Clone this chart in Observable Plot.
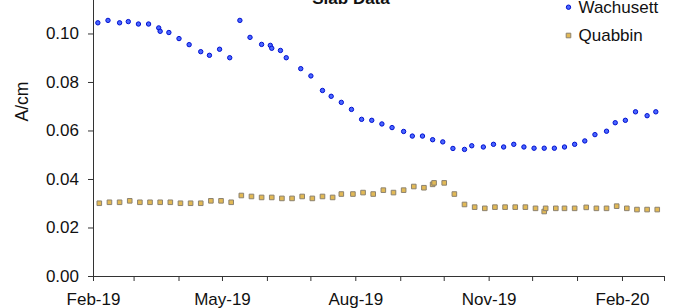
<!DOCTYPE html>
<html>
<head>
<meta charset="utf-8">
<script src="https://cdn.jsdelivr.net/npm/d3@7"></script>
<script src="https://cdn.jsdelivr.net/npm/@observablehq/plot@0.6"></script>
<style>
  html, body { margin: 0; padding: 0; background: white; }
  #chart { width: 675px; height: 308px; overflow: hidden; }
</style>
</head>
<body>
<div id="chart"></div>
<script>
const chartTitle = "Slab Data";
const yLabel = "A/cm";
const seriesNames = ["Wachusett", "Quabbin"];

const wachusettDates = [
  "2019-02-04","2019-02-11","2019-02-19","2019-02-25","2019-03-04","2019-03-11","2019-03-18","2019-03-19",
  "2019-03-25","2019-04-01","2019-04-08","2019-04-16","2019-04-22","2019-04-29","2019-05-06","2019-05-13",
  "2019-05-20","2019-05-28","2019-06-03","2019-06-04","2019-06-10","2019-06-14","2019-06-24","2019-07-01",
  "2019-07-09","2019-07-15","2019-07-22","2019-07-29","2019-08-05","2019-08-12","2019-08-19","2019-08-26",
  "2019-09-03","2019-09-09","2019-09-16","2019-09-23","2019-09-30","2019-10-07","2019-10-15","2019-10-20",
  "2019-10-28","2019-11-04","2019-11-11","2019-11-18","2019-11-25","2019-12-02","2019-12-09","2019-12-16",
  "2019-12-23","2019-12-30","2020-01-06","2020-01-13","2020-01-21","2020-01-27","2020-02-03","2020-02-10",
  "2020-02-18","2020-02-24"
];
const wachusettValues = [
  0.1046,0.1056,0.1046,0.1051,0.1041,0.1041,0.1025,0.1011,
  0.1006,0.0981,0.0956,0.0927,0.0912,0.0937,0.0902,0.1056,
  0.0986,0.0957,0.0953,0.0941,0.0932,0.0902,0.0857,0.0827,
  0.0767,0.0743,0.0718,0.0689,0.0648,0.0644,0.0629,0.0614,
  0.0598,0.0579,0.0579,0.0564,0.0555,0.0528,0.0524,0.0539,
  0.0534,0.0545,0.0534,0.0545,0.0534,0.0529,0.0529,0.0529,
  0.0534,0.0545,0.0559,0.0585,0.0599,0.0634,0.0644,0.0679,
  0.0663,0.0679
];

const quabbinDates = [
  "2019-02-05","2019-02-12","2019-02-19","2019-02-26","2019-03-05","2019-03-12","2019-03-19","2019-03-26",
  "2019-04-02","2019-04-09","2019-04-16","2019-04-23","2019-04-30","2019-05-07","2019-05-14","2019-05-21",
  "2019-05-28","2019-06-04","2019-06-11","2019-06-18","2019-06-25","2019-07-02","2019-07-09","2019-07-16",
  "2019-07-22","2019-07-30","2019-08-06","2019-08-13","2019-08-20","2019-08-27","2019-09-03","2019-09-10",
  "2019-09-17","2019-09-23","2019-09-24","2019-10-01","2019-10-08","2019-10-15","2019-10-22","2019-10-29",
  "2019-11-05","2019-11-12","2019-11-19","2019-11-26","2019-12-03","2019-12-09","2019-12-10","2019-12-17",
  "2019-12-23","2019-12-30","2020-01-07","2020-01-14","2020-01-21","2020-01-28","2020-02-04","2020-02-11",
  "2020-02-18","2020-02-25"
];
const quabbinValues = [
  0.0302,0.0306,0.0306,0.0312,0.0306,0.0306,0.0306,0.0306,
  0.0302,0.0302,0.0302,0.0312,0.0312,0.0306,0.0334,0.0330,
  0.0326,0.0326,0.0322,0.0322,0.0330,0.0322,0.0330,0.0326,
  0.0340,0.0340,0.0346,0.0340,0.0356,0.0346,0.0356,0.0371,
  0.0366,0.0380,0.0386,0.0386,0.0340,0.0297,0.0286,0.0281,
  0.0286,0.0286,0.0286,0.0286,0.0281,0.0268,0.0281,0.0281,
  0.0281,0.0281,0.0285,0.0281,0.0281,0.0290,0.0281,0.0276,
  0.0276,0.0276
];

const xTickDates = [
  "2019-02-01","2019-03-01","2019-04-01","2019-05-01","2019-06-01","2019-07-01","2019-08-01",
  "2019-09-01","2019-10-01","2019-11-01","2019-12-01","2020-01-01","2020-02-01","2020-03-01"
];
const xTickLabels = ["Feb-19","","","May-19","","","Aug-19","","","Nov-19","","","Feb-20",""];
const yTicks = [0, 0.02, 0.04, 0.06, 0.08, 0.10];
const xDomain = ["2019-02-01", "2020-03-01"];
const yDomain = [0, 0.1138];

const parse = d3.utcParse("%Y-%m-%d");
const wachusett = wachusettDates.map((d, i) => ({date: parse(d), value: wachusettValues[i]}));
const quabbin = quabbinDates.map((d, i) => ({date: parse(d), value: quabbinValues[i]}));
const tickDates = xTickDates.map(parse);
const tickLabelMap = new Map(tickDates.map((d, i) => [+d, xTickLabels[i]]));

const axisColor = "#333";
const font = "'Liberation Sans', Arial, sans-serif";

const wStyle = {fill: "#4a66ff", stroke: "#0010d0", strokeWidth: 1};
const qStyle = {fill: "#e2b955", stroke: "#8c826f", strokeWidth: 1};

const plot = Plot.plot({
  width: 675,
  height: 308,
  marginLeft: 93,
  marginRight: 11,
  marginTop: 0,
  marginBottom: 32,
  style: {fontFamily: font, fontSize: "17px", color: "#111", background: "white", overflow: "visible"},
  x: {type: "utc", domain: xDomain.map(parse)},
  y: {domain: yDomain},
  marks: [
    Plot.axisY({ticks: yTicks, tickFormat: d3.format(".2f"), tickSize: 5, tickPadding: 9.5,
      label: null, stroke: axisColor, fill: "#111", fontSize: 17}),
    Plot.axisX({ticks: tickDates, tickFormat: d => tickLabelMap.get(+d) ?? "", tickSize: 5, tickPadding: 11,
      label: null, stroke: axisColor, fill: "#111", fontSize: 17}),
    Plot.frame({anchor: "left", stroke: axisColor}),
    Plot.frame({anchor: "bottom", stroke: axisColor}),
    Plot.dot(quabbin, {x: "date", y: "value", symbol: "square", r: 2.6, ...qStyle}),
    Plot.dot(wachusett, {x: "date", y: "value", symbol: "circle", r: 2.2, ...wStyle}),
    // y label
    Plot.text([yLabel], {frameAnchor: "left", dx: -71.5, dy: -17, rotate: -90, fontSize: 17.5, fill: "#111"}),
    // title (partly cut off at the top)
    Plot.text([chartTitle], {frameAnchor: "top", dx: -28, dy: 3.3, lineAnchor: "bottom", fontSize: 17, fontWeight: "bold", fill: "#111"}),
    // legend
    Plot.dot([seriesNames[0]], {frameAnchor: "top-right", dx: -96, dy: 6.7, symbol: "circle", r: 2.2, ...wStyle}),
    Plot.dot([seriesNames[1]], {frameAnchor: "top-right", dx: -96, dy: 35, symbol: "square", r: 2.6, ...qStyle}),
    Plot.text([seriesNames[0]], {frameAnchor: "top-right", dx: -86, dy: 6.7, textAnchor: "start", lineAnchor: "middle", fontSize: 17, fill: "#111"}),
    Plot.text([seriesNames[1]], {frameAnchor: "top-right", dx: -86, dy: 35, textAnchor: "start", lineAnchor: "middle", fontSize: 17, fill: "#111"})
  ]
});
document.getElementById("chart").appendChild(plot);
</script>
</body>
</html>
